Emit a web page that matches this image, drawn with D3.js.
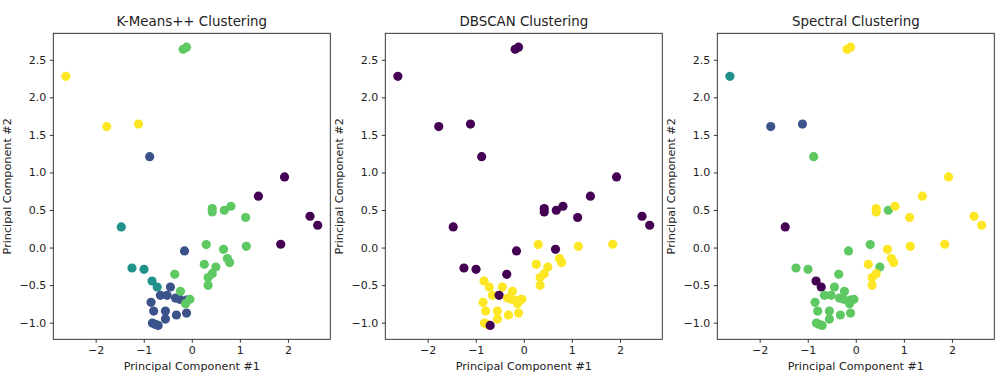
<!DOCTYPE html>
<html>
<head>
<meta charset="utf-8">
<script src="https://cdn.jsdelivr.net/npm/d3@7"></script>
<style>
  body { margin: 0; background: white; }
  svg { font-family: "DejaVu Sans", sans-serif; }
</style>
</head>
<body>
<div id="viz"></div>
<script>
// principal components of the samples
var pc_x = [-2.62, -1.77, -1.11, -0.877, -0.18, -0.11, 1.93, 1.386, 2.46, 2.62,
  1.85, -1.468, -1.245, -0.994, -0.827, -0.72, -0.152, -0.445, -0.653, -0.514,
  -0.34, -0.25, -0.11, -0.848, -0.793, -0.549, -0.32, -0.11, -0.549, -0.82,
  -0.758, -0.70, -0.355, -0.236, -0.04, -0.13, 0.30, 0.26, 0.50, 0.425,
  0.34, 0.34, 0.425, 0.425, 0.676, 0.815, 1.12, 0.66, 0.74, 0.787, 1.135];

var pc_y = [2.28, 1.61, 1.644, 1.21, 2.64, 2.667, 0.94, 0.684, 0.417, 0.297,
  0.044, 0.275, -0.272, -0.29, -0.445, -0.525, -0.045, -0.525, -0.636, -0.636,
  -0.672, -0.689, -0.70, -0.729, -0.845, -0.845, -0.898, -0.872, -0.952, -1.005,
  -1.023, -1.036, -0.356, -0.583, -0.689, -0.747, 0.04, -0.223, -0.259, -0.347,
  -0.40, -0.503, 0.52, 0.475, 0.497, 0.55, 0.40, -0.023, -0.147, -0.20, 0.017];

// cluster labels per method
var kmeans_labels = [4, 4, 4, 1, 3, 3, 0, 0, 0, 0,
  0, 2, 2, 2, 2, 2, 1, 1, 1, 1,
  1, 1, 1, 1, 1, 1, 1, 1, 1, 1,
  1, 1, 3, 3, 3, 3, 3, 3, 3, 3,
  3, 3, 3, 3, 3, 3, 3, 3, 3, 3, 3];

var dbscan_labels = [-1, -1, -1, -1, -1, -1, -1, -1, -1, -1,
  0, -1, -1, -1, 0, 0, -1, 0, 0, -1,
  0, 0, 0, 0, 0, 0, 0, 0, 0, 0,
  0, -1, -1, 0, 0, 0, 0, 0, 0, 0,
  0, 0, -1, -1, -1, -1, -1, -1, 0, 0, 0];

var spectral_labels = [2, 1, 1, 3, 4, 4, 4, 4, 4, 4,
  4, 0, 3, 3, 0, 0, 3, 3, 3, 3,
  3, 3, 3, 3, 3, 3, 3, 3, 3, 3,
  3, 3, 3, 3, 3, 3, 3, 4, 3, 4,
  4, 4, 4, 4, 3, 4, 4, 4, 4, 4, 4];

var panel_titles = ['K-Means++ Clustering', 'DBSCAN Clustering', 'Spectral Clustering'];
var x_ticks = [-2, -1, 0, 1, 2];
var y_ticks = [-1.0, -0.5, 0.0, 0.5, 1.0, 1.5, 2.0, 2.5];

var svg_dim = {width: 999, height: 388};
var ax_dim = {width: 277, height: 306, top: 33.3};
var ax_lefts = [53.3, 385.3, 717.3];

var svg_group = d3.select('#viz')
  .append('svg')
  .attr('width', svg_dim.width)
  .attr('height', svg_dim.height);

// matplotlib style 5% margins on data range
function padded(values) {
  var ext = d3.extent(values);
  var pad = (ext[1] - ext[0]) * 0.05;
  return [ext[0] - pad, ext[1] + pad];
}

var x_scale = d3.scaleLinear()
  .domain(padded(pc_x))
  .range([0, ax_dim.width]);

var y_scale = d3.scaleLinear()
  .domain(padded(pc_y))
  .range([ax_dim.height, 0]);

var points = pc_x.map(function(d, i) { return {x: d, y: pc_y[i], i: i}; });

function make_panel(inst_index, labels) {

  var inst_left = ax_lefts[inst_index];
  var ax_group = svg_group
    .append('g')
    .attr('transform', 'translate(' + inst_left + ',' + ax_dim.top + ')');

  var lab_ext = d3.extent(labels);
  var color_fn = function(lab) {
    return d3.interpolateViridis((lab - lab_ext[0]) / (lab_ext[1] - lab_ext[0]));
  };

  ax_group.selectAll('circle')
    .data(points)
    .enter()
    .append('circle')
    .attr('cx', function(d) { return x_scale(d.x); })
    .attr('cy', function(d) { return y_scale(d.y); })
    .attr('r', 4.6)
    .attr('fill', function(d) { return color_fn(labels[d.i]); });

  // axes
  // -----------------------------------------------------
  var x_axis = ax_group
    .append('g')
    .attr('transform', 'translate(0,' + ax_dim.height + ')')
    .call(d3.axisBottom(x_scale)
      .tickValues(x_ticks)
      .tickFormat(d3.format('d'))
      .tickSizeInner(3.5)
      .tickSizeOuter(0)
      .tickPadding(3.5));

  var y_axis = ax_group
    .append('g')
    .call(d3.axisLeft(y_scale)
      .tickValues(y_ticks)
      .tickFormat(d3.format('.1f'))
      .tickSizeInner(3.5)
      .tickSizeOuter(0)
      .tickPadding(3.5));

  [x_axis, y_axis].forEach(function(inst_axis) {
    inst_axis.select('.domain').remove();
    inst_axis.selectAll('line')
      .attr('stroke', '#000')
      .attr('stroke-width', 0.8);
    inst_axis.selectAll('text')
      .attr('fill', '#222')
      .style('font-size', '11px')
      .style('font-family', '"DejaVu Sans", sans-serif');
  });

  // frame on all four sides
  ax_group
    .append('rect')
    .attr('width', ax_dim.width)
    .attr('height', ax_dim.height)
    .attr('fill', 'none')
    .attr('stroke', '#222')
    .attr('stroke-width', 0.9);

  // labels
  // -----------------------------------------------------
  ax_group
    .append('text')
    .attr('x', ax_dim.width / 2)
    .attr('y', -7.5)
    .attr('text-anchor', 'middle')
    .attr('fill', '#222')
    .style('font-size', '13.4px')
    .text(panel_titles[inst_index]);

  ax_group
    .append('text')
    .attr('x', ax_dim.width / 2)
    .attr('y', ax_dim.height + 30.5)
    .attr('text-anchor', 'middle')
    .attr('fill', '#222')
    .style('font-size', '11.2px')
    .text('Principal Component #1');

  ax_group
    .append('text')
    .attr('transform', 'translate(-42,' + ax_dim.height / 2 + ') rotate(-90)')
    .attr('text-anchor', 'middle')
    .attr('fill', '#222')
    .style('font-size', '11.2px')
    .text('Principal Component #2');
}

make_panel(0, kmeans_labels);
make_panel(1, dbscan_labels);
make_panel(2, spectral_labels);
</script>
</body>
</html>
